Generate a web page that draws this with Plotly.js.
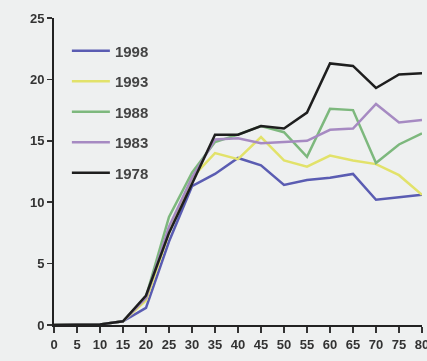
<!DOCTYPE html>
<html>
<head>
<meta charset="utf-8">
<script src="https://cdn.plot.ly/plotly-3.0.1.min.js"></script>
<style>
  html, body { margin: 0; padding: 0; background: #eef0f0; }
  #chart { width: 427px; height: 361px; filter: blur(0.4px); }
</style>
</head>
<body>
<div id="chart"></div>
<script>
// Age (years) on the x axis
const ages = [0, 5, 10, 15, 20, 25, 30, 35, 40, 45, 50, 55, 60, 65, 70, 75, 80];

// One series per survey year
const years = ['1998', '1993', '1988', '1983', '1978'];
const v1998 = [0, 0, 0.05, 0.3, 1.4, 6.8, 11.3, 12.3, 13.6, 13.0, 11.4, 11.8, 12.0, 12.3, 10.2, 10.4, 10.6];
const v1993 = [0, 0, 0.05, 0.3, 2.0, 7.5, 12.0, 14.0, 13.5, 15.3, 13.4, 12.9, 13.8, 13.4, 13.1, 12.2, 10.6];
const v1988 = [0, 0, 0.05, 0.3, 2.3, 8.8, 12.4, 14.9, 15.5, 16.2, 15.7, 13.7, 17.6, 17.5, 13.2, 14.7, 15.6];
const v1983 = [0, 0, 0.05, 0.3, 2.2, 8.0, 12.0, 15.1, 15.2, 14.8, 14.9, 15.0, 15.9, 16.0, 18.0, 16.5, 16.7];
const v1978 = [0, 0, 0.05, 0.3, 2.4, 7.5, 11.5, 15.5, 15.5, 16.2, 16.0, 17.3, 21.3, 21.1, 19.3, 20.4, 20.5];
const series = [v1998, v1993, v1988, v1983, v1978];
const colors = ['#5a5cb2', '#e2e26a', '#7db87d', '#a68ac2', '#1e1e1e'];

const traces = years.map((name, i) => ({
  x: ages,
  y: series[i],
  name: name,
  type: 'scatter',
  mode: 'lines',
  legendgroup: name,
  line: { color: colors[i], width: 2.5 },
  hoverinfo: 'skip'
}));

const tickFont = { family: 'Liberation Sans, Arial, sans-serif', size: 13, weight: 'bold', color: '#333' };

const layout = {
  width: 427,
  height: 361,
  margin: { l: 54, r: 5, t: 18, b: 36 },
  paper_bgcolor: '#eef0f0',
  plot_bgcolor: '#eef0f0',
  showlegend: true,
  legend: {
    x: 0.035, y: 0.946, xanchor: 'left', yanchor: 'top',
    bgcolor: 'rgba(0,0,0,0)',
    traceorder: 'grouped',
    tracegroupgap: 8,
    itemwidth: 38,
    font: { family: 'Liberation Sans, Arial, sans-serif', size: 15, weight: 'bold', color: '#444' }
  },
  xaxis: {
    range: [0, 80],
    tickmode: 'array',
    tickvals: ages,
    ticktext: ages.map(String),
    ticks: 'outside', ticklen: 6, tickwidth: 1.5, tickcolor: '#333',
    ticklabeloverflow: 'allow',
    showline: true, linecolor: '#222', linewidth: 2,
    showgrid: false, zeroline: false,
    tickfont: tickFont
  },
  yaxis: {
    range: [0, 25],
    tickvals: [0, 5, 10, 15, 20, 25],
    ticks: 'outside', ticklen: 5, tickwidth: 1.5, tickcolor: '#333',
    showline: true, linecolor: '#222', linewidth: 2,
    showgrid: false, zeroline: false,
    tickfont: tickFont
  }
};

Plotly.newPlot('chart', traces, layout, { displayModeBar: false, staticPlot: true });
</script>
</body>
</html>
